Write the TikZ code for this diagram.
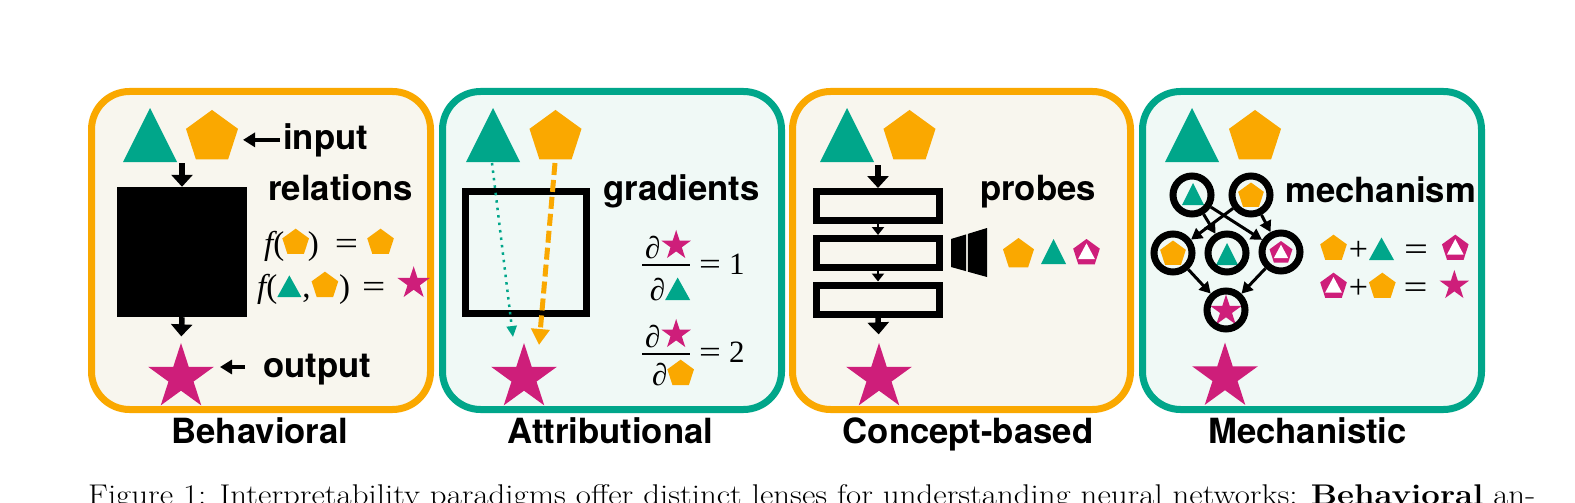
\documentclass[tikz,border=0pt]{standalone}
\usepackage{fontspec}
\usepackage{graphicx}
\usetikzlibrary{shapes.geometric,arrows.meta,calc}
\newfontfamily\hv{TeX Gyre Heros}
\newfontfamily\tms{Liberation Serif}
\definecolor{corange}{RGB}{250,168,0}
\definecolor{cteal}{RGB}{0,166,138}
\definecolor{cmag}{RGB}{206,30,122}
\definecolor{fillor}{RGB}{248,246,238}
\definecolor{fillte}{RGB}{240,249,246}
% inline shapes
\newcommand\itri[1]{\tikz[x=1pt,y=1pt,baseline=0pt]\fill[cteal] (0,0)--(#1,0)--(#1/2,0.9*#1)--cycle;}
\newcommand\ipent[1]{\tikz[baseline=0pt]\node[regular polygon,regular polygon sides=5,minimum size=#1pt,inner sep=0pt,outer sep=0pt,fill=corange,anchor=south]{};}
\newcommand\ipentm[1]{\tikz[baseline=0pt,x=1pt,y=1pt]{\node[regular polygon,regular polygon sides=5,minimum size=#1pt,inner sep=0pt,outer sep=0pt,fill=cmag,anchor=south](qq){};\fill[white] ($(qq.center)+(0,0.345*#1)$) -- ($(qq.center)+(0.3*#1,-0.215*#1)$) -- ($(qq.center)+(-0.3*#1,-0.215*#1)$) -- cycle;}}
\newcommand\istar[1]{\tikz[baseline=0pt]\node[star,star points=5,star point ratio=2.618,minimum size=#1pt,inner sep=0pt,outer sep=0pt,fill=cmag,anchor=outer point 3]{};}
\newcommand\myeq{\scalebox{1.25}[1]{=}}
\tikzset{
  panelO/.style={draw=corange,fill=fillor,line width=7pt,rounded corners=38pt,inner sep=0pt},
  panelT/.style={draw=cteal,fill=fillte,line width=7pt,rounded corners=38pt,inner sep=0pt},
  bigpent/.style={regular polygon,regular polygon sides=5,minimum size=54.7pt,inner sep=0pt,fill=corange},
  smpent/.style={regular polygon,regular polygon sides=5,minimum size=#1pt,inner sep=0pt,fill=corange},
  bigstar/.style={star,star points=5,star point ratio=2.618,minimum size=69pt,inner sep=0pt,fill=cmag},
  smstar/.style={star,star points=5,star point ratio=2.618,minimum size=#1pt,inner sep=0pt,fill=cmag},
  pics/tri/.style={code={\fill[cteal] (-#1/2,#1/2) -- (#1/2,#1/2) -- (0,-#1/2) -- cycle;}},
  pics/mpent/.style={code={\node[regular polygon,regular polygon sides=5,minimum size=#1pt,inner sep=0pt,fill=cmag] {};
     \fill[white] (0,-0.345*#1) -- (0.3*#1,0.215*#1) -- (-0.3*#1,0.215*#1) -- cycle;}},
  lab/.style={font={\hv\bfseries\fontsize{34.7}{40}\selectfont},inner sep=0pt,anchor=base west},
  title/.style={font={\hv\bfseries\fontsize{34.7}{40}\selectfont},inner sep=0pt,anchor=base},
  mth/.style={font={\tms\fontsize{#1}{36}\selectfont},inner sep=0pt,anchor=base west},
  frc/.style={font={\tms\itshape\fontsize{31}{36}\selectfont},inner sep=0pt,anchor=base},
  barrow/.style={line width=5.5pt,-{Triangle[width=21pt,length=12pt]}},
  harrow/.style={line width=4pt,-{Triangle[width=14pt,length=12pt]}},
  sarrow/.style={line width=2pt,-{Triangle[width=12pt,length=8pt]}},
  garrow/.style={line width=3pt,-{Triangle[width=12pt,length=11pt]}},
  layer/.style={draw,line width=7pt,minimum width=123pt,minimum height=29pt,inner sep=0pt},
  ring/.style={circle,draw,line width=7pt,minimum size=38pt,inner sep=0pt},
}
\begin{document}
\begin{tikzpicture}[x=1pt,y=-1pt]
\useasboundingbox (0,0) rectangle (1575,503);
\fill[white] (0,0) rectangle (1575,503);
% panels
\node[panelO,minimum width=339pt,minimum height=318pt] (P1) at (261,250.5) {};
\node[panelT,minimum width=339pt,minimum height=318pt] (P2) at (612,250.5) {};
\node[panelO,minimum width=338pt,minimum height=318pt] (P3) at (961.5,250.5) {};
\node[panelT,minimum width=339pt,minimum height=318pt] (P4) at (1312,250.5) {};
\node[title] (L1) at (260,443) {Behavioral};
\node[title] (L2) at (610.5,443) {Attributional};
\node[title] (L3) at (968,443) {Concept-based};
\node[title] (L4) at (1307.5,443) {Mechanistic};

% ---------- panel 1: Behavioral
\pic at (150,135) {tri=54};
\node[bigpent] (pe1) at (212,137.3) {};
\node[lab] (in1) at (283,149) {input};
\draw[harrow,shorten <=3pt] (in1.west) -- (in1.west -| 243,0);
\node[fill=black,minimum size=130pt,inner sep=0pt] (bb) at (182,252) {};
\coordinate (bbin) at (182,163);
\draw[barrow] (bbin) -- (bb.north);
\node[bigstar] (st1) at (181,377.5) {};
\draw[barrow,shorten >=6pt] (bb.south) -- (st1.north);
\node[lab] (rel) at (268,200.5) {relations};
\node[lab] (out1) at (263,377) {output};
\coordinate (out1t) at (220,367);
\draw[harrow,shorten <=18pt] (out1.west |- out1t) -- (out1t);
\node[mth=33] (f1) at (264,254) {{\itshape f}(\kern-2pt\ipent{28}\kern-1pt)\kern16pt\myeq\kern9pt\ipent{28}};
\node[mth=33] (f2) at (257,297) {{\itshape f}(\kern0pt\itri{24}\kern1pt,\kern1pt\ipent{28}\kern1pt)\kern12pt\myeq\kern12pt\istar{34}};

% ---------- panel 2: Attributional
\pic at (493,135) {tri=54};
\node[bigpent] (pe2) at (555.5,137.3) {};
\node[draw,line width=7pt,minimum width=121pt,minimum height=122pt,inner sep=0pt] (gbox) at (526,252.5) {};
\node[bigstar] (st2) at (524,377.5) {};
\coordinate (g1s) at (492,163);
\coordinate (g1e) at (513,337);
\coordinate (g2s) at (555,163);
\coordinate (g2e) at (539,345);
\draw[cteal,line width=2.5pt,dash pattern=on 2.5pt off 5pt,-{Triangle[width=10pt,length=11pt]}] (g1s) -- (g1e);
\draw[corange,line width=5pt,dash pattern=on 12pt off 5pt,-{Triangle[width=18pt,length=16pt]}] (g2s) -- (g2e);
\node[lab] (grad) at (603,200.5) {gradients};
\node[frc] (n1) at (668,258) {∂\kern1pt\istar{31}};
\node[frc] (d1) at (670,300) {∂\kern0pt\itri{25}};
\coordinate (b1a) at (642,265); \coordinate (b1b) at (690,265);
\draw[line width=2pt] (b1a) -- (b1b);
\node[mth=31] (q1) at (699,274) {\myeq\kern8pt1};
\node[frc] (n2) at (668,347) {∂\kern1pt\istar{31}};
\node[frc] (d2) at (673,385) {∂\kern0pt\ipent{28}};
\coordinate (b2a) at (642,354); \coordinate (b2b) at (690,354);
\draw[line width=2pt] (b2a) -- (b2b);
\node[mth=31] (q2) at (699,362) {\myeq\kern8pt2};

% ---------- panel 3: Concept-based
\pic at (847,135) {tri=54};
\node[bigpent] (pe3) at (909.5,137.3) {};
\node[layer] (r1) at (878,206) {};
\node[layer] (r2) at (878,253) {};
\node[layer] (r3) at (878,299.5) {};
\coordinate (r1in) at (878,165);
\draw[barrow] (r1in) -- (r1.north);
\draw[sarrow] (r1.south) -- (r2.north);
\draw[sarrow] (r2.south) -- (r3.north);
\node[bigstar] (st3) at (879,377.5) {};
\draw[barrow,shorten >=8pt] (r3.south) -- (st3.north);
\node[lab] (prb) at (980,200.5) {probes};
\fill[black] (951,239) -- (966.2,234.4) -- (966.2,271.2) -- (951,267) -- cycle;
\fill[black] (967.8,233.9) -- (987,228) -- (987,277) -- (967.8,271.7) -- cycle;
\node[smpent=32.6] (pp) at (1018.5,254.3) {};
\pic at (1053.5,251.5) {tri=25};
\pic at (1086.5,253) {mpent=28};

% ---------- panel 4: Mechanistic
\pic at (1192,135) {tri=54};
\node[bigpent] (pe4) at (1255,137.3) {};
\pic at (1193,194) {tri=22};
\node[smpent=27] at (1251,196) {};
\node[smpent=27] at (1173,254) {};
\pic at (1227,254) {tri=22};
\pic at (1281,253) {mpent=24};
\node[smstar=33] at (1226,311) {};
\node[ring] (c1) at (1192,195) {};
\node[ring] (c2) at (1251,195) {};
\node[ring] (c3) at (1173,253) {};
\node[ring] (c4) at (1227,253) {};
\node[ring] (c5) at (1281,252) {};
\node[ring] (c6) at (1226,310) {};
\draw[garrow] (c1) -- (c4);
\draw[garrow] (c2) -- (c3);
\draw[garrow] (c1) -- (c5);
\draw[garrow] (c2) -- (c5);
\draw[garrow] (c3) -- (c6);
\draw[garrow] (c5) -- (c6);
\node[bigstar] (st4) at (1225,377) {};
\node[lab] (mech) at (1285,202) {mechanism};
\node[mth=34] (e1) at (1320,260) {\ipent{28}\kern2pt+\kern1pt\itri{25}\kern10pt\myeq\kern14pt\ipentm{28}};
\node[mth=34] (e2) at (1320,298) {\ipentm{28}\kern2pt+\kern1pt\ipent{28}\kern8pt\myeq\kern12pt\istar{31}};

% caption (cut by the page edge)
\node[inner sep=0pt,anchor=base west,font=\fontsize{28.5}{34}\selectfont] (cap) at (88,504)
  {\resizebox{1447pt}{\height}{Figure 1: Interpretability paradigms offer distinct lenses for understanding neural networks: \textbf{Behavioral} an-}};
\end{tikzpicture}
\end{document}
